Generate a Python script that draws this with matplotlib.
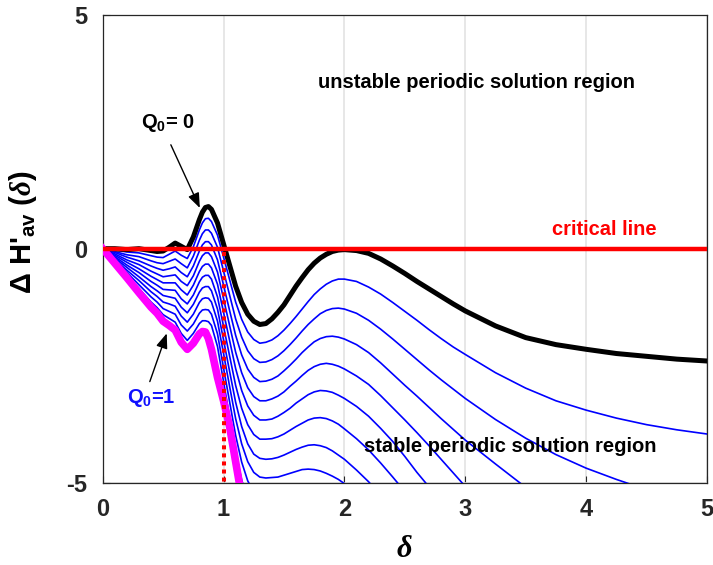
import numpy as np
import matplotlib.pyplot as plt

nan = np.nan

# delta grid (x)
delta = [0, 0.1, 0.2, 0.3, 0.4, 0.45, 0.5, 0.55, 0.6, 0.65, 0.7, 0.75, 0.8,
         0.825, 0.85, 0.875,
         0.9, 0.95, 1.0, 1.05, 1.1, 1.15, 1.2, 1.25, 1.3,
         1.35, 1.4, 1.45, 1.5, 1.55, 1.6, 1.65, 1.7, 1.75, 1.8, 1.85, 1.9, 1.95, 2.0,
         2.1, 2.2, 2.3, 2.4, 2.5, 2.6, 2.7, 2.8, 2.9, 3.0,
         3.25, 3.5, 3.75, 4.0, 4.25, 4.5, 4.75, 5.0]

# Q0 = 0 (black)
h_q0_0 = ([0, 0.0, -0.02, 0.0, -0.04, -0.06, -0.05, 0.03, 0.12, 0.05, -0.02, 0.25, 0.62]
          + [0.78, 0.88, 0.9]
          + [0.84, 0.55, 0.1, -0.35, -0.8, -1.15, -1.4, -1.55, -1.62]
          + [-1.6, -1.5, -1.36, -1.2, -1.0, -0.8, -0.62, -0.45, -0.31, -0.2, -0.12, -0.06, -0.03, -0.02]
          + [-0.04, -0.1, -0.22, -0.37, -0.53, -0.7, -0.86, -1.02, -1.18, -1.33]
          + [-1.65, -1.9, -2.05, -2.15, -2.24, -2.3, -2.36, -2.4])

# intermediate Q0 values (blue), top to bottom
h_k1 = ([0, -0.03, -0.07, -0.09, -0.15, -0.18, -0.19, -0.12, -0.05, -0.14, -0.21, 0.04, 0.40]
        + [0.55, 0.64, 0.65]
        + [0.58, 0.29, -0.18, -0.66, -1.14, -1.51, -1.78, -1.94, -2.02]
        + [-2.00, -1.95, -1.86, -1.74, -1.60, -1.45, -1.29, -1.13, -0.98, -0.86, -0.76, -0.69, -0.65, -0.65]
        + [-0.70, -0.82, -0.97, -1.15, -1.34, -1.53, -1.73, -1.92, -2.10, -2.26]
        + [-2.65, -2.98, -3.25, -3.45, -3.62, -3.76, -3.87, -3.96])
h_k2 = ([0, -0.06, -0.13, -0.17, -0.26, -0.30, -0.32, -0.27, -0.22, -0.32, -0.41, -0.16, 0.18]
        + [0.32, 0.40, 0.40]
        + [0.33, 0.03, -0.48, -0.99, -1.50, -1.89, -2.18, -2.35, -2.43]
        + [-2.42, -2.37, -2.29, -2.18, -2.05, -1.91, -1.76, -1.62, -1.50, -1.39, -1.32, -1.28, -1.27, -1.29]
        + [-1.38, -1.53, -1.72, -1.93, -2.15, -2.37, -2.59, -2.8, -3.0, -3.2]
        + [-3.65, -4.05, -4.4, -4.69, -4.93, -5.15, nan, nan])
h_k3 = ([0, -0.08, -0.18, -0.26, -0.37, -0.42, -0.46, -0.43, -0.39, -0.51, -0.60, -0.37, -0.05]
        + [0.08, 0.15, 0.15]
        + [0.08, -0.24, -0.78, -1.32, -1.85, -2.27, -2.57, -2.75, -2.84]
        + [-2.83, -2.79, -2.72, -2.61, -2.49, -2.36, -2.22, -2.10, -1.99, -1.92, -1.88, -1.87, -1.89, -1.93]
        + [-2.05, -2.22, -2.44, -2.68, -2.92, -3.15, -3.39, -3.63, -3.86, -4.09]
        + [-4.6, -5.1] + [nan] * 6)
h_k4 = ([0, -0.11, -0.24, -0.34, -0.48, -0.54, -0.60, -0.58, -0.56, -0.70, -0.79, -0.58, -0.27]
        + [-0.15, -0.09, -0.09]
        + [-0.17, -0.50, -1.07, -1.64, -2.21, -2.65, -2.97, -3.16, -3.25]
        + [-3.25, -3.21, -3.15, -3.06, -2.94, -2.83, -2.71, -2.60, -2.52, -2.47, -2.45, -2.47, -2.51, -2.57]
        + [-2.72, -2.9, -3.14, -3.4, -3.66, -3.93, -4.21, -4.5, -4.79, -5.08]
        + [nan] * 8)
h_k5 = ([0, -0.14, -0.29, -0.43, -0.59, -0.66, -0.73, -0.73, -0.73, -0.88, -0.99, -0.78, -0.49]
        + [-0.38, -0.33, -0.33]
        + [-0.41, -0.76, -1.36, -1.96, -2.56, -3.03, -3.36, -3.56, -3.66]
        + [-3.66, -3.64, -3.58, -3.50, -3.41, -3.30, -3.21, -3.12, -3.06, -3.03, -3.04, -3.07, -3.13, -3.2]
        + [-3.37, -3.58, -3.84, -4.12, -4.44, -4.78, -5.09, -5.4, nan, nan]
        + [nan] * 8)
h_k6 = ([0, -0.17, -0.35, -0.51, -0.70, -0.78, -0.87, -0.88, -0.89, -1.07, -1.18, -0.99, -0.71]
        + [-0.61, -0.57, -0.57]
        + [-0.65, -1.03, -1.66, -2.29, -2.92, -3.41, -3.76, -3.97, -4.07]
        + [-4.07, -4.06, -4.02, -3.96, -3.88, -3.80, -3.73, -3.66, -3.62, -3.61, -3.63, -3.68, -3.75, -3.85]
        + [-4.06, -4.3, -4.58, -4.88, -5.19, -5.5] + [nan] * 4
        + [nan] * 8)
h_k7 = ([0, -0.20, -0.40, -0.60, -0.81, -0.90, -1.00, -1.03, -1.06, -1.25, -1.37, -1.19, -0.93]
        + [-0.84, -0.81, -0.81]
        + [-0.90, -1.29, -1.95, -2.62, -3.28, -3.80, -4.17, -4.39, -4.48]
        + [-4.50, -4.49, -4.46, -4.41, -4.35, -4.29, -4.24, -4.20, -4.19, -4.21, -4.25, -4.32, -4.41, -4.5]
        + [-4.73, -4.98, -5.27, -5.6] + [nan] * 6
        + [nan] * 8)
h_k8 = ([0, -0.23, -0.46, -0.68, -0.92, -1.02, -1.14, -1.18, -1.23, -1.44, -1.57, -1.40, -1.15]
        + [-1.07, -1.05, -1.06]
        + [-1.14, -1.55, -2.24, -2.94, -3.63, -4.17, -4.55, -4.78, -4.88]
        + [-4.90, -4.89, -4.88, -4.84, -4.80, -4.76, -4.72, -4.71, -4.72, -4.75, -4.80, -4.86, -4.93, -5.02]
        + [-5.2] + [nan] * 9
        + [nan] * 8)
h_k9 = ([0, -0.25, -0.51, -0.77, -1.03, -1.14, -1.28, -1.34, -1.40, -1.63, -1.76, -1.61, -1.38]
        + [-1.31, -1.30, -1.31]
        + [-1.40, -1.82, -2.55, -3.27, -3.99, -4.56, -4.96, -5.20, nan]
        + [nan] * 32)
h_k10 = ([0, -0.28, -0.57, -0.85, -1.14, -1.26, -1.41, -1.49, -1.57, -1.81, -1.96, -1.81, -1.60]
         + [-1.54, -1.54, -1.56]
         + [-1.64, -2.09, -2.84, -3.60, -4.35, -4.94, -5.36, nan, nan]
         + [nan] * 32)
blues = [h_k1, h_k2, h_k3, h_k4, h_k5, h_k6, h_k7, h_k8, h_k9, h_k10]

# Q0 = 1 (magenta)
h_q0_1 = ([0, -0.31, -0.62, -0.94, -1.25, -1.38, -1.55, -1.64, -1.74, -2.0, -2.15, -2.02, -1.82]
          + [-1.77, -1.78, -1.92]
          + [-2.15, -2.75, -3.25, -3.8, -4.55, -5.3, nan, nan, nan]
          + [nan] * 32)

critical_level = 0.0
boundary_x = 1.0
boundary_y = [-0.08, -5.0]

# annotation points (tail, head)
q00_text = (0.54, 2.68)
q00_tail, q00_head = (0.564, 2.22), (0.804, 0.87)
q01_text = (0.405, -3.2)
q01_tail, q01_head = (0.39, -2.84), (0.53, -1.81)

plt.rcParams['font.family'] = ['Liberation Sans', 'DejaVu Sans']
plt.rcParams['font.weight'] = 'bold'
plt.rcParams['axes.unicode_minus'] = False
plt.rcParams['mathtext.fontset'] = 'custom'
plt.rcParams['mathtext.rm'] = 'Liberation Sans:bold'
plt.rcParams['mathtext.bf'] = 'Liberation Sans:bold'
plt.rcParams['mathtext.it'] = 'Liberation Serif:italic'

fig = plt.figure(figsize=(7.13, 5.65), dpi=100)
ax = fig.add_axes([0.144, 0.1457, 0.8476, 0.8283])

for h in blues:
    ax.plot(delta, h, color='#0000ff', lw=1.2, zorder=3)
ax.plot(delta, h_q0_0, color='black', lw=3.6, zorder=4, solid_joinstyle='round')
ax.plot(delta, h_q0_1, color='#ff00ff', lw=5.5, zorder=4, solid_joinstyle='round')
ax.axhline(critical_level, color='#ff0000', lw=3.2, zorder=5)
ax.plot([boundary_x, boundary_x], boundary_y, color='#ff0000', lw=2.9,
        linestyle=(0, (1, 1)), dash_capstyle='butt', zorder=6)

ax.text(3.09, 3.56, 'unstable periodic solution region', ha='center', va='center',
        fontsize=14.5, fontweight='bold')
ax.text(3.37, -4.22, 'stable periodic solution region', ha='center', va='center',
        fontsize=14.5, fontweight='bold')
ax.text(4.15, 0.42, 'critical line', ha='center', va='center', color='#ff0000',
        fontsize=14.5, fontweight='bold')

arrow = dict(arrowstyle='-|>,head_length=0.9,head_width=0.35', color='black',
             lw=1.0, shrinkA=0, shrinkB=0)
ax.text(*q00_text, r'Q$_{\mathbf{0}}$= 0', ha='center', va='center',
        fontsize=14.5, fontweight='bold')
ax.annotate('', xy=q00_head, xytext=q00_tail, arrowprops=arrow)
ax.text(*q01_text, r'Q$_{\mathbf{0}}$=1', ha='center', va='center',
        fontsize=14.5, fontweight='bold', color='#1010ff')
ax.annotate('', xy=q01_head, xytext=q01_tail, arrowprops=arrow)

ax.set_xlim(0, 5)
ax.set_ylim(-5, 5)
ax.set_xticks([0, 1, 2, 3, 4, 5])
ax.set_yticks([-5, 0, 5])
ax.tick_params(direction='in', length=5, width=0.8, labelsize=17, colors='#262626')
ax.tick_params(axis='x', pad=11)
ax.tick_params(axis='y', pad=11)
for lab in ax.get_xticklabels() + ax.get_yticklabels():
    lab.set_fontweight('bold')
ax.grid(True, color='#e3e3e3', lw=1.2)
ax.set_axisbelow(True)
for sp in ax.spines.values():
    sp.set_color('#262626')
    sp.set_linewidth(0.9)

ax.set_xlabel(r'$\delta$', fontsize=22)
ax.xaxis.set_label_coords(0.5, -0.11)
ax.set_ylabel(r"$\Delta$ H'$_{\mathbf{av}}$ ($\delta$)", fontsize=21, fontweight='bold')
ax.yaxis.set_label_coords(-0.105, 0.536)

fig.savefig('out.png', dpi=100)
